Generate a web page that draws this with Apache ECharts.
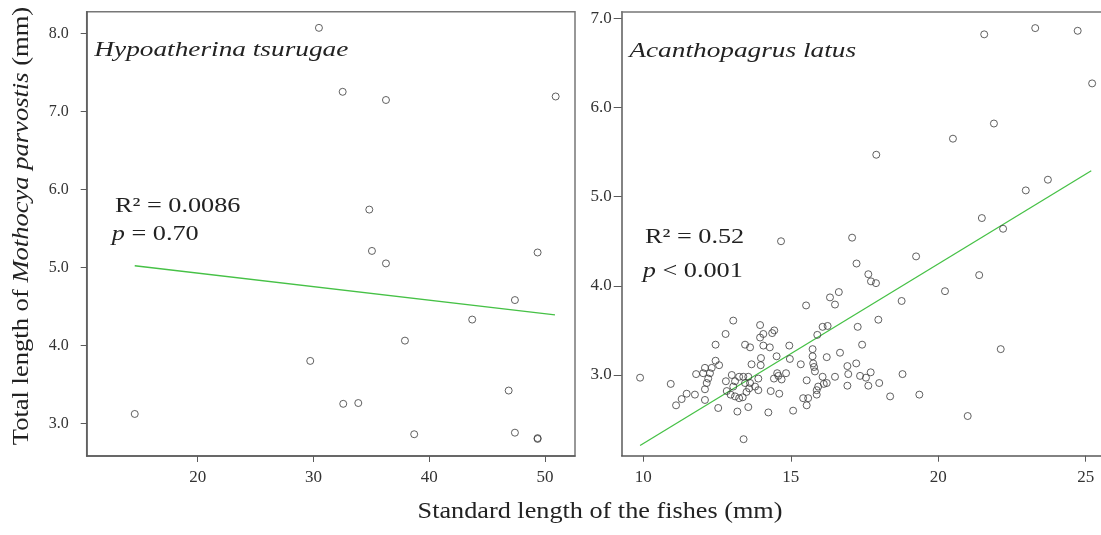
<!DOCTYPE html>
<html lang="en">
<head>
<meta charset="UTF-8">
<title>Mothocya parvostis vs fish length</title>
<script src="https://cdn.jsdelivr.net/npm/echarts@6/dist/echarts.min.js"></script>
<style>
    html, body { margin: 0; padding: 0; background: #fff; }
    #main { width: 1101px; height: 535px; }
</style>
</head>
<body>
<div id="main"></div>
<script type="text/javascript">
    // Hypoatherina tsurugae (left panel)
    var leftX = [14.56, 30.47, 32.52, 36.26, 50.92, 34.82, 35.05, 36.26, 49.36, 47.40,
                 43.71, 37.90, 29.72, 32.57, 33.87, 38.70, 46.86, 47.40, 49.36, 49.36];
    var leftY = [3.12, 8.07, 7.25, 7.145, 7.19, 5.74, 5.21, 5.05, 5.19, 4.58,
                 4.33, 4.06, 3.80, 3.25, 3.26, 2.86, 3.42, 2.88, 2.80, 2.81];
    var leftLineX = [14.56, 50.86];
    var leftLineY = [5.02, 4.39];

    // Acanthopagrus latus (right panel)
    var rightX = [21.56, 23.29, 24.73, 25.22, 21.89, 20.50, 17.90, 23.72, 22.97, 21.48,
                  22.20, 17.08, 14.67, 19.25, 17.23, 21.39, 17.63, 17.72, 17.89, 16.63,
                  20.23, 16.33, 18.76, 16.50, 15.52, 17.97, 13.05, 13.96, 17.27, 16.08,
                  16.25, 15.90, 14.07, 14.44, 14.37, 13.96, 12.79, 17.42, 22.12, 16.67,
                  17.22, 16.92, 16.95, 17.35, 17.55, 17.71, 18.79, 16.92, 17.63, 18.00,
                  18.37, 19.36, 21.00, 9.89, 10.93, 11.11, 11.30, 11.47, 11.75, 11.79,
                  12.09, 12.32, 12.03, 12.26, 12.20, 12.15, 12.09, 12.09, 12.45, 12.57,
                  12.45, 12.54, 13.00, 12.80, 13.11, 13.25, 13.39, 13.56, 13.45, 13.62,
                  13.90, 13.79, 13.90, 13.05, 12.83, 12.96, 13.11, 13.25, 13.37, 13.50,
                  13.59, 13.19, 13.56, 14.24, 14.32, 14.61, 14.43, 14.58, 14.69, 14.84,
                  14.54, 15.08, 15.54, 15.42, 15.59, 15.54, 15.88, 15.93, 15.88, 16.08,
                  16.12, 16.22, 16.50, 13.45, 13.62, 14.07, 14.29, 14.95, 13.99, 14.52,
                  14.97, 15.74, 15.74, 15.76, 15.79, 15.82, 16.22, 15.34, 13.67, 13.98,
                  13.40];
    var rightY = [6.82, 6.89, 6.86, 6.27, 5.82, 5.65, 5.47, 5.19, 5.07, 4.76,
                  4.64, 4.54, 4.50, 4.33, 4.25, 4.12, 4.13, 4.05, 4.03, 3.93,
                  3.94, 3.87, 3.83, 3.79, 3.78, 3.62, 3.61, 3.56, 3.54, 3.54,
                  3.55, 3.45, 3.46, 3.50, 3.47, 3.42, 3.46, 3.34, 3.29, 3.25,
                  3.13, 3.10, 3.01, 2.99, 2.97, 3.03, 3.01, 2.88, 2.88, 2.91,
                  2.76, 2.78, 2.54, 2.97, 2.90, 2.66, 2.73, 2.79, 2.78, 3.01,
                  3.08, 3.08, 3.02, 3.02, 2.96, 2.91, 2.84, 2.72, 3.16, 3.11,
                  3.34, 2.63, 3.00, 2.93, 2.93, 2.98, 2.98, 2.98, 2.91, 2.91,
                  2.96, 2.87, 2.83, 2.87, 2.82, 2.78, 2.76, 2.74, 2.75, 2.81,
                  2.85, 2.59, 2.64, 2.58, 2.82, 2.79, 2.96, 2.99, 2.95, 3.02,
                  3.02, 2.60, 2.94, 2.74, 2.74, 2.66, 2.83, 2.87, 2.78, 2.98,
                  2.90, 2.91, 2.98, 3.34, 3.31, 3.33, 3.31, 3.33, 3.19, 3.21,
                  3.18, 3.29, 3.21, 3.13, 3.09, 3.04, 3.20, 3.12, 3.12, 3.11,
                  2.28];
    var rightLineX = [9.89, 25.19];
    var rightLineY = [2.21, 5.29];

    // tick labels
    var leftXTicks = [20, 30, 40, 50];
    var leftYTicks = [3, 4, 5, 6, 7, 8];
    var rightXTicks = [10, 15, 20, 25];
    var rightYTicks = [3, 4, 5, 6, 7];

    var serif = '"Liberation Serif", "Times New Roman", serif';
    var axisColor = '#5a5a5a';
    var textColor = '#222';

    function pairs(xs, ys) {
        return xs.map(function (x, i) { return [x, ys[i]]; });
    }

    function xAxisOf(grid, min, max, ticks) {
        return {
            gridIndex: grid, type: 'value', min: min, max: max,
            axisLine: { show: true, lineStyle: { color: axisColor, width: 1.5 } },
            axisTick: { show: true, length: 6, customValues: ticks, lineStyle: { color: axisColor } },
            axisLabel: { customValues: ticks, margin: 13, fontSize: 17, fontFamily: serif, color: '#333' },
            splitLine: { show: false }
        };
    }

    function yAxisOf(grid, min, max, ticks, margin, size, tickLen) {
        return {
            gridIndex: grid, type: 'value', min: min, max: max,
            axisLine: { show: true, lineStyle: { color: axisColor, width: 1.5 } },
            axisTick: { show: true, length: tickLen, customValues: ticks, lineStyle: { color: axisColor } },
            axisLabel: {
                customValues: ticks, margin: margin, fontSize: size, fontFamily: serif, color: '#333',
                formatter: function (v) { return v.toFixed(1); }
            },
            splitLine: { show: false }
        };
    }

    function scatterOf(i, data) {
        return {
            type: 'scatter', xAxisIndex: i, yAxisIndex: i, data: data,
            symbol: 'circle', symbolSize: 7,
            itemStyle: { color: 'rgba(0,0,0,0)', borderColor: '#3a3a3a', borderWidth: 1 }
        };
    }

    function lineOf(i, data) {
        return {
            type: 'line', xAxisIndex: i, yAxisIndex: i, data: data,
            symbol: 'none', lineStyle: { color: '#46c146', width: 1.3 }, z: 1
        };
    }

    function label(txt, x, y, size, sx, italic) {
        return {
            type: 'text', x: x, y: y, scaleX: sx,
            style: {
                text: txt, fill: textColor, align: 'left', verticalAlign: 'middle',
                font: (italic ? 'italic ' : '') + size + 'px ' + serif
            }
        };
    }

    function rich(parts, x, y, size, sx) {
        return {
            type: 'text', x: x, y: y, scaleX: sx,
            style: {
                text: parts, fill: textColor, align: 'left', verticalAlign: 'middle',
                fontSize: size, fontFamily: serif,
                rich: {
                    n: { fontSize: size, fontFamily: serif, color: textColor },
                    i: { fontSize: size, fontFamily: serif, fontStyle: 'italic', color: textColor }
                }
            }
        };
    }

    var myChart = echarts.init(document.getElementById('main'));

    // top edge of the right panel (its right edge is cut off in the figure)
    var rightTop = xAxisOf(1, 9.267, 25.68, []);
    rightTop.position = 'top';
    rightTop.axisLine.lineStyle.color = '#777';
    rightTop.axisTick = { show: false };
    rightTop.axisLabel = { show: false };

    var option = {
        animation: false,
        grid: [
            { left: 86.7, top: 11.7, width: 488.3, height: 444.3, outerBoundsMode: 'none',
              show: true, borderColor: '#777', borderWidth: 1.5 },
            { left: 621.7, top: 11.7, width: 484, height: 444, outerBoundsMode: 'none', show: false }
        ],
        xAxis: [
            xAxisOf(0, 10.41, 52.59, leftXTicks),
            xAxisOf(1, 9.267, 25.68, rightXTicks),
            rightTop
        ],
        yAxis: [
            yAxisOf(0, 2.581, 8.277, leftYTicks, 18, 16, 6),
            yAxisOf(1, 2.095, 7.074, rightYTicks, 10, 17, 8)
        ],
        series: [
            lineOf(0, pairs(leftLineX, leftLineY)),
            scatterOf(0, pairs(leftX, leftY)),
            lineOf(1, pairs(rightLineX, rightLineY)),
            scatterOf(1, pairs(rightX, rightY))
        ],
        graphic: [
            label('Hypoatherina tsurugae', 94.3, 50.5, 21, 1.3, true),
            label('Acanthopagrus latus', 629.3, 51, 21, 1.3, true),
            label('R\u00b2 = 0.0086', 115, 206.5, 21, 1.25, false),
            rich('{i|p}{n| = 0.70}', 111.7, 234, 21, 1.25),
            label('R\u00b2 = 0.52', 645, 237.5, 21, 1.25, false),
            rich('{i|p}{n| < 0.001}', 642.7, 271.5, 21, 1.25),
            {
                type: 'text', x: 600, y: 512, scaleX: 1.14,
                style: {
                    text: 'Standard length of the fishes (mm)', fill: textColor,
                    align: 'center', verticalAlign: 'middle', font: '23px ' + serif
                }
            },
            {
                type: 'text', x: 22, y: 226, rotation: Math.PI / 2, scaleX: 1.13,
                style: {
                    text: '{n|Total length of }{i|Mothocya parvostis}{n| (mm)}',
                    fill: textColor, align: 'center', verticalAlign: 'middle',
                    fontSize: 23.5, fontFamily: serif,
                    rich: {
                        n: { fontSize: 23.5, fontFamily: serif, color: textColor },
                        i: { fontSize: 23.5, fontFamily: serif, fontStyle: 'italic', color: textColor }
                    }
                }
            }
        ]
    };

    myChart.setOption(option);
</script>
</body>
</html>
